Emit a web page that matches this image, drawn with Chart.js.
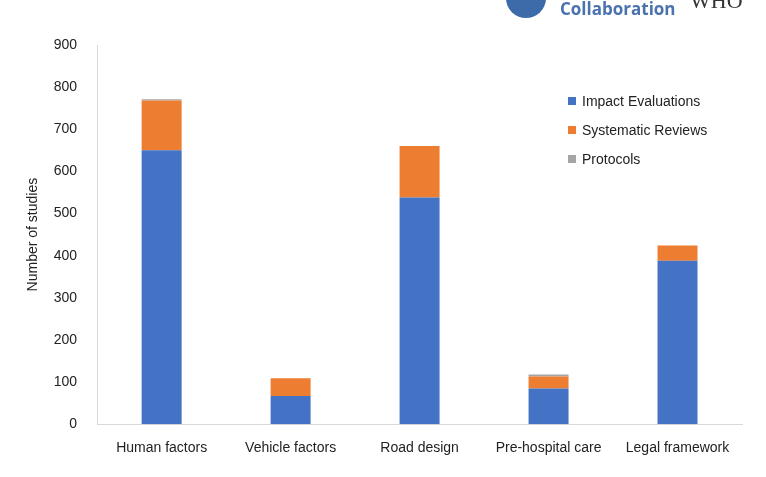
<!DOCTYPE html>
<html><head><meta charset="utf-8">
<script src="https://cdn.jsdelivr.net/npm/chart.js"></script>
<style>
body{margin:0;background:#fff;font-family:"Liberation Sans",sans-serif;}
#wrap{position:relative;width:766px;height:477px;}
#logo{position:absolute;left:506px;top:-22px;width:40px;height:40px;border-radius:50%;background:#3d6aa8;}
#logotxt{position:absolute;left:560px;top:-3px;font:bold 17px "Open Sans",sans-serif;color:#4a72ad;}
#logo2{position:absolute;left:690px;top:-12px;font:22px "Liberation Serif",serif;color:#333;}
#legend{position:absolute;left:568px;top:86px;font:14px "Liberation Sans",sans-serif;color:#222;}
#legend div{height:29px;display:flex;align-items:center;}
#legend span{display:inline-block;width:8px;height:8px;margin-right:6px;}
</style></head><body>
<div id="wrap">
<canvas id="c" width="766" height="477"></canvas>
<div id="logo"></div><div id="logotxt">Collaboration</div><div id="logo2">WHO</div>
<div id="legend"></div>
</div>
<script>
const categories = ['Human factors','Vehicle factors','Road design','Pre-hospital care','Legal framework'];
const impactEvaluations = [650, 67, 538, 85, 388];
const systematicReviews = [118, 42, 122, 28, 36];
const protocols = [3, 0, 0, 5, 0];
const seriesNames = ['Impact Evaluations','Systematic Reviews','Protocols'];
const colors = ['#4472c4','#ed7d31','#a5a5a5'];

document.getElementById('legend').innerHTML = seriesNames.map((n,i)=>
  '<div><span style="background:'+colors[i]+'"></span>'+n+'</div>').join('');

new Chart(document.getElementById('c'), {
  type: 'bar',
  data: {
    labels: categories,
    datasets: [impactEvaluations, systematicReviews, protocols].map((d,i)=>({
      label: seriesNames[i], data: d, backgroundColor: colors[i],
      categoryPercentage: 1, barPercentage: 0.31
    }))
  },
  options: {
    responsive: false, animation: false,
    layout: {padding: {top: 45, right: 24, bottom: 12, left: 25}},
    plugins: {legend: {display: false}, tooltip: {enabled: false}},
    scales: {
      x: {stacked: true, grid: {display: false},
          border: {color: '#d9d9d9'},
          ticks: {color: '#222', font: {size: 14, family: 'Liberation Sans'}, padding: 8}},
      y: {stacked: true, min: 0, max: 900,
          grid: {display: false}, border: {color: '#d9d9d9'},
          ticks: {stepSize: 100, color: '#222', font: {size: 14, family: 'Liberation Sans'}, padding: 12},
          title: {display: true, text: 'Number of studies', color: '#222', font: {size: 14, family: 'Liberation Sans'}, padding: {bottom: 0, top: 0}}}
    }
  }
});
</script>
</body></html>
